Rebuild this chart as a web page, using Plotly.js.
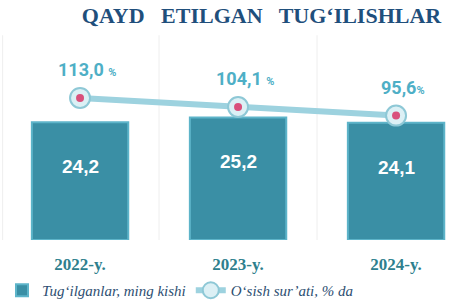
<!DOCTYPE html>
<html>
<head>
<meta charset="utf-8">
<script src="https://cdn.plot.ly/plotly-3.0.1.min.js"></script>
<style>html,body{margin:0;padding:0;background:#fff;}#chart{width:467px;height:307px;}</style>
</head>
<body>
<div id="chart"></div>
<script>
const categories = ["2022-y.", "2023-y.", "2024-y."];
const births = [24.2, 25.2, 24.1];
const growth = [113.0, 104.1, 95.6];
const birthLabels = ["24,2", "25,2", "24,1"];
const growthLabels = ["113,0 ", "104,1 ", "95,6"];
const seriesNames = ["Tug‘ilganlar, ming kishi", "O‘sish sur’ati, % da"];
const titleText = "QAYD&nbsp;&nbsp; ETILGAN&nbsp;&nbsp; TUG‘ILISHLAR";

const barTrace = {
  type: "bar", x: categories, y: births, name: seriesNames[0],
  width: 0.61,
  marker: {color: "#3a8fa5", line: {color: "#5db4c9", width: 2}},
  hoverinfo: "skip"
};
const lineTrace = {
  type: "scatter", mode: "lines+markers", x: categories, y: growth, yaxis: "y2",
  name: seriesNames[1],
  line: {color: "#9dd2df", width: 6},
  marker: {size: 20, color: "#dcf0f5", line: {color: "#8ec8d6", width: 2}},
  hoverinfo: "skip"
};
const dotTrace = {
  type: "scatter", mode: "markers", x: categories, y: growth, yaxis: "y2",
  showlegend: false,
  marker: {size: 8, color: "#d9507c"},
  hoverinfo: "skip"
};

const annotations = [];
categories.forEach((c, i) => {
  annotations.push({
    x: c, y: births[i], xref: "x", yref: "y", yanchor: "top", yshift: -32,
    text: birthLabels[i], showarrow: false,
    font: {family: "Liberation Sans, Arial", size: 19, color: "#ffffff", weight: "bold"}
  });
  annotations.push({
    x: c, y: growth[i], xref: "x", yref: "y2", yanchor: "middle", yshift: 28, xshift: 7,
    text: "<b>" + growthLabels[i] + "<span style='font-size:11px'>%</span></b>", showarrow: false,
    font: {family: "Roboto, Liberation Sans, Arial", size: 18, color: "#4eafc6"}
  });
});

const shapes = [-0.49, 0.5, 1.5].map(v => ({
  type: "line", xref: "x", yref: "paper", x0: v, x1: v, y0: 0, y1: 1.05,
  line: {color: "#eeeeee", width: 1}, layer: "below"
}));

const layout = {
  width: 467, height: 307,
  margin: {l: 2, r: 0, t: 45, b: 63},
  paper_bgcolor: "#ffffff", plot_bgcolor: "#ffffff",
  title: {
    text: "<b>" + titleText + "</b>", x: 0.56, xanchor: "center", xref: "container",
    y: 0.951, yanchor: "middle", yref: "container",
    font: {family: "Liberation Serif, Times New Roman", size: 22, color: "#1f4f7c"}
  },
  xaxis: {
    type: "category", range: [-0.494, 2.449], showgrid: false, zeroline: false, showline: false,
    ticks: "", ticklabelstandoff: 12,
    tickfont: {family: "Liberation Serif, Times New Roman", size: 17, color: "#2e7f8e", weight: "bold"}
  },
  yaxis: {range: [0, 40.1], visible: false, showgrid: false, zeroline: false},
  yaxis2: {range: [-27.2, 165.3], overlaying: "y", side: "right", visible: false, showgrid: false, zeroline: false},
  showlegend: true,
  legend: {
    orientation: "h", x: 0.0, xanchor: "left", y: -0.26, yanchor: "middle",
    font: {family: "Liberation Serif, Times New Roman, serif", size: 15, color: "#2e4f72", style: "italic"},
    itemwidth: 30, tracegroupgap: 0, bgcolor: "rgba(0,0,0,0)"
  },
  annotations: annotations,
  shapes: shapes
};

Plotly.newPlot("chart", [barTrace, lineTrace, dotTrace], layout, {displayModeBar: false, staticPlot: true});
</script>
</body>
</html>
